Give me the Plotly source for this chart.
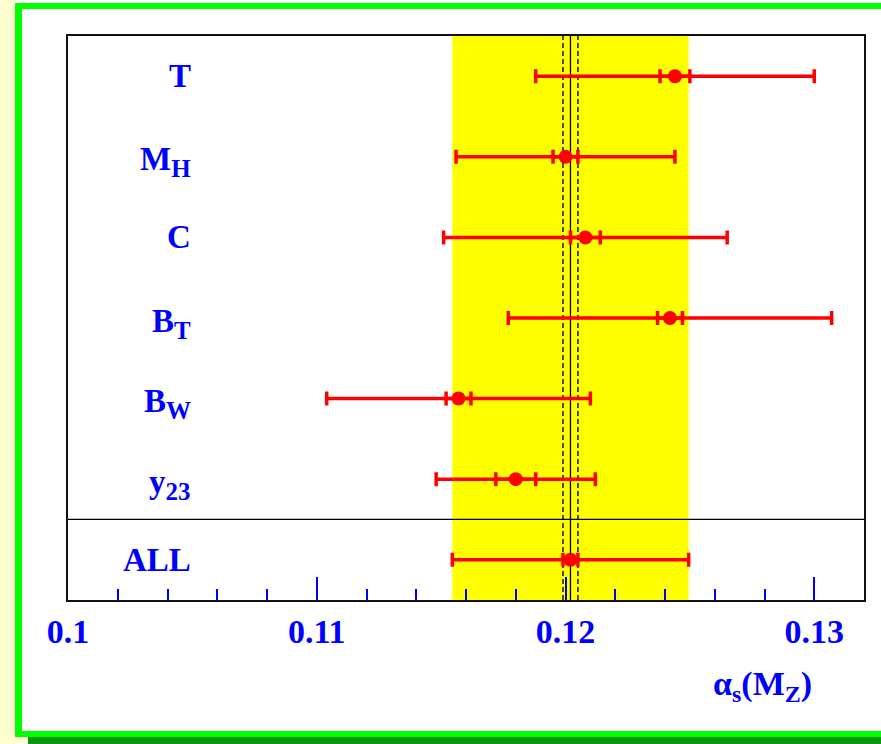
import plotly.graph_objects as go

# alpha_s(M_Z) determinations from event-shape observables, top to bottom
labels = ["T", "M|H", "C", "B|T", "B|W", "y|23", "ALL"]
alpha_s = [0.1244, 0.1200, 0.1208, 0.1242, 0.1157, 0.1180, 0.1202]
err_stat = [0.0006, 0.0005, 0.0006, 0.0005, 0.0005, 0.0008, 0.0003]
err_total = [0.0056, 0.0044, 0.0057, 0.0065, 0.0053, 0.0032, 0.00475]

tick_vals = [0.10, 0.11, 0.12, 0.13]
tick_text = ["0.1", "0.11", "0.12", "0.13"]

W, H = 881, 744
ML, MR, MT, MB = 68, 17, 36, 144
PW, PH = W - ML - MR, H - MT - MB

n = len(labels)
ypos = [n - 1 - i for i in range(n)]  # T on top, ALL at the bottom


def px(x):
    return (x - ML) / PW


def py(y):
    return (H - MB - y) / PH


def with_sub(label, sub_size):
    """'M|H' -> M with subscript H, at an explicit subscript size."""
    if "|" not in label:
        return label
    main, sub = label.split("|", 1)
    return f'{main}<sub><span style="font-size:{sub_size}px">{sub}</span></sub>'


RED = "#ff0000"
BLUE = "#0000ff"
SERIF = "Liberation Serif"

fig = go.Figure()

# total uncertainty (outer bars)
fig.add_trace(go.Scatter(
    x=alpha_s, y=ypos, mode="markers",
    marker=dict(size=1, color="rgba(0,0,0,0)"),
    error_x=dict(type="data", array=err_total, symmetric=True,
                 color=RED, thickness=3.5, width=7),
    hoverinfo="skip", showlegend=False,
))
# statistical uncertainty (inner bars) and central values
fig.add_trace(go.Scatter(
    x=alpha_s, y=ypos, mode="markers",
    marker=dict(size=14, color=RED, symbol="circle"),
    error_x=dict(type="data", array=err_stat, symmetric=True,
                 color=RED, thickness=3.5, width=7),
    showlegend=False,
))

comb = alpha_s[-1]
comb_stat = err_stat[-1]
comb_tot = err_total[-1]

shapes = [
    # page decoration
    dict(type="rect", xref="paper", yref="paper", x0=px(0), x1=px(15), y0=py(H), y1=py(0),
         fillcolor="#ffffd0", line=dict(width=0), layer="below"),
    dict(type="rect", xref="paper", yref="paper", x0=px(15), x1=px(28), y0=py(H), y1=py(737),
         fillcolor="#ffffd0", line=dict(width=0), layer="below"),
    dict(type="rect", xref="paper", yref="paper", x0=px(15), x1=px(22), y0=py(737), y1=py(3),
         fillcolor="#00ff00", line=dict(width=0), layer="below"),
    dict(type="rect", xref="paper", yref="paper", x0=px(15), x1=px(W), y0=py(9), y1=py(3),
         fillcolor="#00ff00", line=dict(width=0), layer="below"),
    dict(type="rect", xref="paper", yref="paper", x0=px(15), x1=px(W), y0=py(737), y1=py(731),
         fillcolor="#00ff00", line=dict(width=0), layer="below"),
    dict(type="rect", xref="paper", yref="paper", x0=px(28), x1=px(W), y0=py(H), y1=py(737),
         fillcolor="#0a960a", line=dict(width=0), layer="below"),
    # combined total-uncertainty band
    dict(type="rect", xref="x", yref="paper", x0=comb - comb_tot, x1=comb + comb_tot, y0=0, y1=1,
         fillcolor="#ffff00", line=dict(width=0), layer="below"),
    # combined value and its statistical uncertainty
    dict(type="line", xref="x", yref="paper", x0=comb, x1=comb, y0=0, y1=1,
         line=dict(color="black", width=1.3), layer="below"),
    dict(type="line", xref="x", yref="paper", x0=comb - comb_stat, x1=comb - comb_stat, y0=0, y1=1,
         line=dict(color="#222222", width=1.6, dash="5px,3px"), layer="below"),
    dict(type="line", xref="x", yref="paper", x0=comb + comb_stat, x1=comb + comb_stat, y0=0, y1=1,
         line=dict(color="#222222", width=1.6, dash="5px,3px"), layer="below"),
    # separator between single observables and the combination
    dict(type="line", xref="paper", yref="y", x0=0, x1=1, y0=0.5, y1=0.5,
         line=dict(color="black", width=1.2)),
]

annotations = []
for lab, yv in zip(labels, ypos):
    has_sub = "|" in lab
    annotations.append(dict(
        x=px(193), xref="paper", y=yv, yref="y", text=with_sub(lab, 25), showarrow=False,
        xanchor="right", yanchor="middle", yshift=-5 if has_sub else 0,
        font=dict(family=SERIF, size=33, color=BLUE, weight="bold"),
    ))
annotations.append(dict(
    x=px(814), xref="paper", y=py(686), yref="paper",
    text='α<sub><span style="font-size:24px">s</span></sub>(M<sub><span style="font-size:24px">Z</span></sub>)',
    showarrow=False, xanchor="right", yanchor="middle",
    font=dict(family=SERIF, size=34, color=BLUE, weight="bold"),
))

fig.update_layout(
    width=W, height=H,
    margin=dict(l=ML, r=MR, t=MT, b=MB, pad=0),
    paper_bgcolor="white", plot_bgcolor="white",
    shapes=shapes, annotations=annotations,
    xaxis=dict(
        range=[0.1, 0.132], showgrid=False, zeroline=False,
        showline=True, mirror=True, linecolor="#111111", linewidth=1.5,
        tickmode="array", tickvals=tick_vals, ticktext=tick_text,
        ticks="inside", ticklen=23, tickwidth=1.5, tickcolor=BLUE,
        tickfont=dict(family=SERIF, size=34, color=BLUE, weight="bold"),
        minor=dict(dtick=0.002, tick0=0.1, ticks="inside", ticklen=11,
                   tickwidth=1.5, tickcolor=BLUE, showgrid=False),
    ),
    yaxis=dict(
        range=[-0.5, n - 0.5], showgrid=False, zeroline=False,
        showline=True, mirror=True, linecolor="#111111", linewidth=1.5,
        showticklabels=False, ticks="",
    ),
)

fig.write_html("out.html")
